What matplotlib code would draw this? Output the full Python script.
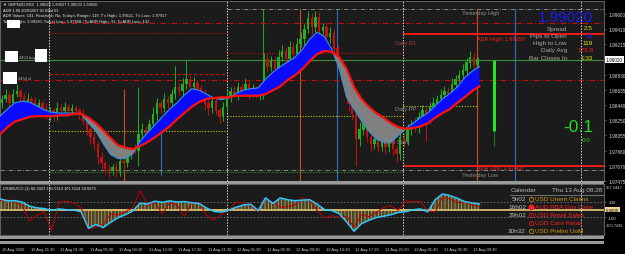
import numpy as np
import matplotlib.pyplot as plt
from matplotlib.patches import Rectangle

plt.rcParams['font.family'] = ['Liberation Sans', 'DejaVu Sans']
plt.rcParams['hatch.linewidth'] = 0.5

# --- data (GBPNZD M15, shown as 30 min bars) ---
first_open = 1.9847
closes = [1.9852, 1.9857, 1.9847, 1.9858, 1.9862, 1.9854, 1.9844, 1.9852, 1.9849, 1.9842,
          1.9847, 1.9840, 1.9832, 1.9837, 1.9829, 1.9840, 1.9837, 1.9842, 1.9836, 1.9840,
          1.9837, 1.9833, 1.9824, 1.9813, 1.9803, 1.9794, 1.9778, 1.9770, 1.9763, 1.9760,
          1.9765, 1.9760, 1.9773, 1.9770, 1.9782, 1.9788, 1.9786, 1.9807, 1.9813, 1.9803,
          1.9820, 1.9833, 1.9846, 1.9840, 1.9852, 1.9847, 1.9858, 1.9867, 1.9862, 1.9871,
          1.9877, 1.9867, 1.9872, 1.9865, 1.9858, 1.9846, 1.9840, 1.9849, 1.9837, 1.9829,
          1.9842, 1.9854, 1.9862, 1.9858, 1.9867, 1.9862, 1.9870, 1.9859, 1.9865, 1.9857,
          1.9862, 1.9903, 1.9893, 1.9900, 1.9890, 1.9905, 1.9913, 1.9903, 1.9918, 1.9909,
          1.9922, 1.9928, 1.9941, 1.9954, 1.9943, 1.9956, 1.9938, 1.9943, 1.9931, 1.9935,
          1.9916, 1.9900, 1.9884, 1.9865, 1.9846, 1.9833, 1.9801, 1.9813, 1.9824, 1.9803,
          1.9794, 1.9801, 1.9791, 1.9798, 1.9791, 1.9801, 1.9788, 1.9782, 1.9803, 1.9798,
          1.9813, 1.9820, 1.9816, 1.9829, 1.9837, 1.9827, 1.9842, 1.9846, 1.9852, 1.9857,
          1.9862, 1.9858, 1.9870, 1.9877, 1.9882, 1.9888, 1.9898, 1.9905, 1.9895, 1.9902]
# wick lengths in pips
wick_up = [5, 8, 4, 6, 9, 3, 5, 7, 4, 6, 5, 3, 7, 5, 4, 8, 5, 6, 4, 5,
           3, 4, 6, 5, 3, 5, 4, 6, 3, 5, 4, 7, 6, 4, 5, 3, 6, 60, 8, 5,
           6, 9, 7, 5, 8, 4, 6, 27, 5, 7, 25, 6, 8, 4, 5, 6, 4, 7, 5, 3,
           6, 8, 5, 7, 6, 4, 8, 5, 6, 4, 5, 7, 8, 6, 5, 9, 7, 5, 8, 6,
           7, 9, 6, 10, 7, 8, 6, 5, 7, 9, 6, 5, 4, 6, 5, 8, 6, 9, 5, 7,
           4, 6, 5, 7, 8, 5, 6, 4, 9, 6, 7, 5, 8, 6, 7, 5, 6, 8, 5, 7,
           6, 5, 8, 6, 7, 9, 6, 8, 5, 3]
wick_dn = [6, 4, 7, 5, 3, 8, 5, 4, 6, 5, 4, 6, 5, 8, 5, 4, 7, 5, 6, 4,
           5, 6, 4, 7, 8, 6, 9, 7, 6, 8, 5, 7, 6, 8, 5, 6, 4, 20, 7, 6,
           5, 4, 8, 6, 5, 7, 4, 6, 5, 8, 6, 5, 7, 4, 6, 8, 9, 6, 5, 8,
           5, 7, 6, 4, 8, 5, 6, 7, 5, 4, 6, 5, 7, 6, 4, 8, 5, 6, 7, 5,
           6, 4, 7, 5, 8, 6, 7, 5, 6, 8, 7, 9, 8, 6, 10, 8, 34, 9, 7, 6,
           8, 6, 7, 5, 9, 6, 7, 10, 8, 6, 5, 7, 6, 8, 5, 29, 6, 7, 5, 6,
           8, 5, 6, 7, 4, 6, 5, 7, 6, 4]

# hourly moving averages
fast_ma = [1.9830, 1.9839, 1.9847, 1.9849, 1.9848, 1.9843, 1.9838, 1.9835, 1.9834, 1.9834,
           1.9834, 1.9833, 1.9821, 1.9811, 1.9795, 1.9781, 1.9776, 1.9776, 1.9782, 1.9798,
           1.9809, 1.9819, 1.9829, 1.9839, 1.9847, 1.9857, 1.9865, 1.9863, 1.9858, 1.9853,
           1.9851, 1.9853, 1.9859, 1.9863, 1.9865, 1.9866, 1.9877, 1.9886, 1.9893, 1.9899,
           1.9905, 1.9915, 1.9928, 1.9937, 1.9931, 1.9915, 1.9890, 1.9854, 1.9839, 1.9824,
           1.9811, 1.9801, 1.9797, 1.9797, 1.9805, 1.9814, 1.9821, 1.9828, 1.9834, 1.9843,
           1.9852, 1.9859, 1.9867, 1.9879, 1.9887, 1.9893]
slow_ma = [1.9807, 1.9816, 1.9823, 1.9826, 1.9829, 1.9830, 1.9830, 1.9830, 1.9831, 1.9831,
           1.9833, 1.9833, 1.9828, 1.9821, 1.9812, 1.9802, 1.9793, 1.9790, 1.9788, 1.9792,
           1.9797, 1.9803, 1.9810, 1.9817, 1.9826, 1.9834, 1.9842, 1.9848, 1.9852, 1.9853,
           1.9854, 1.9854, 1.9856, 1.9856, 1.9856, 1.9856, 1.9858, 1.9863, 1.9868, 1.9876,
           1.9882, 1.9890, 1.9900, 1.9909, 1.9913, 1.9912, 1.9905, 1.9890, 1.9867, 1.9852,
           1.9842, 1.9834, 1.9828, 1.9821, 1.9816, 1.9814, 1.9815, 1.9817, 1.9821, 1.9828,
           1.9834, 1.9839, 1.9847, 1.9854, 1.9862, 1.9868]

# hourly CCI values (lower window)
cci_main = [140, 117, 117, 100, 45, 22, 12, -12, 7, -3,
            -8, -30, -250, -200, -240, -170, -110, -70, -20, 85,
            73, 110, 96, 115, 100, 105, 90, 80, 20, -25,
            -35, -10, 30, 60, 70, -16, 155, 80, 155, 130,
            117, 125, 130, 70, 0, -15, -55, -165, -290, -190,
            -145, -108, -90, -70, -40, -30, -3, 7, -30, 130,
            207, 185, 150, 105, 88, 73]
cci_signal = [117, 130, 100, 50, -150, -80, -30, -280, 96, 110,
              90, 20, -260, -230, -200, -60, -70, -30, 22, 250,
              51, 100, -60, 90, 60, -90, 96, 90, -82, -140,
              -70, -10, 96, 90, 50, -30, 150, 90, 30, 40,
              60, 160, 120, -10, -110, -85, -100, -90, -240, -70,
              -95, -40, 25, 51, -10, 117, 100, 110, -20, -30,
              162, 140, 90, 100, 60, 40]

last_price = 1.99020
yest_high = 1.99664
yest_low = 1.97615
adr_high = 1.99350
adr_low = 1.97668
r_levels = [1.99486, 1.99358, 1.99104]
s_levels = [1.98837, 1.98760, 1.97590]
pp_levels = [1.98111, 1.98302, 1.98429]
signal_bar = [1.99020, 1.98111, 1.97920]

price_ticks = [1.99600, 1.99410, 1.99215, 1.98830, 1.98635, 1.98440,
               1.98250, 1.98055, 1.97860, 1.97670, 1.97475]
date_labels = ["10 Aug 2020", "10 Aug 21:30", "11 Aug 01:30", "11 Aug 05:30", "11 Aug 09:30",
               "11 Aug 13:30", "11 Aug 17:30", "11 Aug 21:30", "12 Aug 01:30", "12 Aug 05:30",
               "12 Aug 09:30", "12 Aug 13:30", "12 Aug 17:30", "12 Aug 21:30", "13 Aug 01:30",
               "13 Aug 05:30", "13 Aug 09:30"]

info_labels = ["Spread", "Pips to Open", "High to Low", "Daily Avg", "Bar Closes In"]
info_values = ["2.5", "90", "119", "175.9", "1:33"]
info_colors = ["#e6e600", "#2020ff", "#e6e600", "#ff2020", "#e6e600"]

cal_times = ["5h02", "16h02", "29h02", "", "30h32"]
cal_events = ["USD Unem Claims", "AUD RBA Gov Lowe", "USD Retail Sales", "USD Core Retail", "USD Prelim UoM"]
cal_colors = ["#d09a10", "#ff2020", "#ff2020", "#ff2020", "#d09a10"]

# --- layout (pixel based, 625x255) ---
W, H = 625, 255
fig = plt.figure(figsize=(W / 100, H / 100), dpi=100, facecolor="black")


def box(x0, y0, x1, y1):
    return [x0 / W, 1 - y1 / H, (x1 - x0) / W, (y1 - y0) / H]


def y2p(y):
    return 1.99791 - y * 0.00012725


bg = "#1b1b1b"
ax = fig.add_axes(box(0, 2, 604, 182), facecolor=bg)
ind = fig.add_axes(box(0, 185, 604, 236), facecolor=bg)
xmax = 604 / 7.375
for a in (ax, ind):
    a.set_xlim(0, xmax)
    for sp in a.spines.values():
        sp.set_color("#707070")
        sp.set_linewidth(0.6)
ax.set_ylim(y2p(182), y2p(2))
ind.set_ylim(-340, 340)

# day separators
for h in (6.64, 30.78, 54.64, 78.78):
    for a in (ax, ind):
        a.axvline(h, color="#d8d8d8", lw=0.7, ls=(0, (1.5, 1.5)), zorder=1.6)

# session lines
ax.vlines([16.81], y2p(182), y2p(90), color="#c8501e", lw=0.8, zorder=1.5)
ax.vlines([40.68, 64.68], y2p(182), yest_high, color="#c8501e", lw=0.8, zorder=1.5)
ax.vlines([21.83], y2p(176), y2p(130), color="#2f6fc0", lw=0.8, zorder=1.5)
ax.vlines([45.69, 69.83], y2p(182), yest_high, color="#2f6fc0", lw=0.8, zorder=1.5)
ax.vlines([35.66], y2p(100), yest_high, color="#22a022", lw=0.8, zorder=1.5)

# levels
dashdot = (0, (5, 2, 1, 2))
dotted = (0, (1, 1.5))
dashed = (0, (3, 2))
lines = [
    (yest_high, 30.78, xmax, "#9a9a9a", dashdot, 0.6),
    (r_levels[0], 6.64, xmax, "#c41010", dashdot, 0.8),
    (r_levels[1], 6.64, 30.78, "#c41010", dotted, 0.8),
    (adr_high, 54.64, xmax, "#ff1a1a", "-", 1.3),
    (r_levels[2], 30.78, 54.64, "#c41010", dotted, 0.8),
    (s_levels[0], 6.64, 30.78, "#c41010", dashed, 0.8),
    (s_levels[1], 0, xmax, "#c41010", dashdot, 0.8),
    (pp_levels[0], 6.64, 30.78, "#c8c800", dotted, 0.8),
    (pp_levels[1], 30.78, 54.64, "#c8c800", dotted, 0.8),
    (pp_levels[2], 54.64, 64.7, "#c8c800", dotted, 0.8),
    (yest_low, 0, xmax, "#9a9a9a", dashdot, 0.6),
    (s_levels[2], 6.64, 54.64, "#20a020", dotted, 0.8),
    (adr_low, 54.64, xmax, "#ff1a1a", "-", 1.3),
]
for p, h0, h1, c, ls, lw in lines:
    ax.hlines(p, h0, h1, colors=c, linestyles=[ls], lw=lw, zorder=1.5)
ax.axhline(last_price, color="#3c8c3c", lw=0.8, zorder=1.5)

# candles
n = len(closes)
bar_h = 0.27 + 0.5 * np.arange(n)
c = np.array(closes)
opens = np.array([first_open] + closes[:-1])
highs = np.maximum(opens, c) + np.array(wick_up) * 0.0001
lows = np.minimum(opens, c) - np.array(wick_dn) * 0.0001
col = np.where(c >= opens, "#1fb01f", "#c41212")
ax.vlines(bar_h, lows, highs, colors=col, lw=0.7, zorder=3)
ax.bar(bar_h, np.abs(c - opens) + 0.00003, bottom=np.minimum(opens, c), width=0.32,
       color=col, lw=0, zorder=3)

# moving average ribbon
mh = np.arange(len(fast_ma))
f = np.array(fast_ma)
s = np.array(slow_ma)
ax.fill_between(mh, f, s, where=f >= s, interpolate=True, color="#0a0aff", lw=0, zorder=4)
ax.fill_between(mh, f, s, where=f < s, interpolate=True, color="#808080", lw=0, zorder=4)
ax.plot(mh, f, color="#3296dc", lw=0.8, zorder=5)
ax.plot(mh, s, color="#ff1010", lw=1.6, zorder=5)

# signal bar
ax.vlines(66.98, signal_bar[1], signal_bar[0], color="#22e622", lw=2.2, zorder=5)
ax.vlines(66.98, signal_bar[2], signal_bar[1], color="#1a7a1a", lw=0.8, zorder=5)

# level labels
lab = dict(fontsize=4.0, va="center", zorder=6)
ax.text(62.6, y2p(13.5), "Yesterday High", color="#8c8c8c", **lab)
ax.text(64.7, y2p(39.5), "ADR High: 1.99350", color="#ff2020", **lab)
ax.text(53.5, y2p(44), "Daily R1", color="#a04040", **lab)
ax.text(53.5, y2p(110), "Daily PP", color="#8c8c8c", **lab)
ax.text(52.0, y2p(143), "LDN Start", color="#8c8c8c", **lab)
ax.text(64.7, y2p(169), "ADR Low: 1.97668", color="#ff2020", **lab)
ax.text(62.6, y2p(175.5), "Yesterday Low", color="#8c8c8c", **lab)

# right price scale
ax.set_xticks([])
ax.yaxis.tick_right()
ax.set_yticks(price_ticks, [f"{p:.5f}" for p in price_ticks])
ax.tick_params(axis="y", colors="#707070", labelcolor="#d8d8d8", labelsize=3.4,
               length=1.5, width=0.5, pad=1.5)
ax.text(1.003, last_price, "1.99020", transform=ax.get_yaxis_transform(), fontsize=3.4,
        color="black", va="center", ha="left", clip_on=False,
        bbox=dict(facecolor="white", edgecolor="none", pad=0.6))

# lower window: CCI
ih = np.arange(len(cci_main))
cm = np.array(cci_main)
ind.fill_between(ih, 0, cm, facecolor="#4a4222", edgecolor="#c8b070", hatch="|||||", lw=0, zorder=2)
ind.axhline(100, color="#707070", lw=0.6, ls=(0, (2, 2)), zorder=2)
ind.axhline(-100, color="#707070", lw=0.6, ls=(0, (2, 2)), zorder=2)
ind.axhline(0, color="#e8c878", lw=1.2, zorder=3)
ind.plot(ih, cci_signal, color="#c00000", lw=0.7, zorder=4)
ind.plot(ih, cm, color="#30c8ff", lw=1.1, zorder=5)

ind.yaxis.tick_right()
ind.set_yticks([100, -100], ["100", "-100"])
ind.tick_params(axis="y", colors="#707070", labelcolor="#d8d8d8", labelsize=3.2,
                length=1.5, width=0.5, pad=1.5)
ind.text(1.003, 0, "0.0000", transform=ind.get_yaxis_transform(), fontsize=3.2, color="black",
         va="center", ha="left", clip_on=False,
         bbox=dict(facecolor="#f0d890", edgecolor="none", pad=0.6))
ind.text(1.003, 304, "357.2447", transform=ind.get_yaxis_transform(), fontsize=2.9,
         color="#d8d8d8", va="center", ha="left", clip_on=False)
ind.text(1.003, -202, "-300.7436", transform=ind.get_yaxis_transform(), fontsize=2.8,
         color="#d8d8d8", va="center", ha="left", clip_on=False)

label_h = [0.27] + [4.15 + 4 * k for k in range(len(date_labels) - 1)]
ind.set_xticks(label_h, date_labels)
ind.tick_params(axis="x", length=0, labelsize=2.9, labelcolor="#d0d0d0", pad=9)
for t in ind.get_xticklabels():
    t.set_ha("left")

# --- overlay in pixel coordinates for panels and texts ---
ov = fig.add_axes([0, 0, 1, 1])
ov.set_xlim(0, W)
ov.set_ylim(H, 0)
ov.axis("off")

ov.add_patch(Rectangle((0, 182), 604, 2.5, color="#9a9a9a", lw=0))
ov.add_patch(Rectangle((0, 237), 604, 2.5, color="#9a9a9a", lw=0))
ov.add_patch(Rectangle((0, 242), 604, 2.5, color="#9a9a9a", lw=0))

hdr = dict(fontsize=2.85, color="#e8e8e8", va="center", ha="left")
ov.text(3, 5, "\u25bc GBPNZD,M15  1.99020 1.99027 1.99003 1.99020", **hdr)
ov.text(3, 10.5, "ADR 1.00 20051007 01 Mod 01", **hdr)
ov.text(3, 16, "ADR Values: 141, Reached= No, Today's Range= 119, T's High= 1.99111, T's Low= 1.97917", **hdr)
ov.text(3, 21.5, "Target High= 1.99330, Target Low= 1.97698 / To ADR High= 31, To ADR Low= 132", **hdr)
ov.text(3, 189, "DSSBUCCI (1) 66.3923 101.5114 101.5114 20.6675", **hdr)

for x0, y0, x1, y1 in [(7, 21, 20, 29), (5, 52, 18, 63), (35, 50, 47, 63), (3, 73, 17, 85)]:
    ov.add_patch(Rectangle((x0, y0), x1 - x0, y1 - y0, color="white", lw=0))
ov.text(19, 58, "4454 buy", fontsize=2.9, color="#b0b0b0", va="center")
ov.text(18, 79.5, "4454 sl", fontsize=2.9, color="#b0b0b0", va="center")

# info panel
ov.text(593, 17.5, "1.99020", fontsize=11, color="#1a1aff", ha="right", va="center")
for i, (l, v, vc) in enumerate(zip(info_labels, info_values, info_colors)):
    y = 29 + 7.3 * i
    ov.text(567, y, l, fontsize=4.6, color="#a8a8a8", ha="right", va="center")
    ov.text(593, y, v, fontsize=4.6, color=vc, ha="right", va="center")
ov.text(593, 127.5, "-0.1", fontsize=12.5, color="#22dd22", ha="right", va="center")
ov.text(590, 140.5, "0.0", fontsize=4.5, color="#22cc22", ha="right", va="center")

# calendar
ov.text(511, 191, "Calendar", fontsize=4.6, color="#b8b8b8", va="center")
ov.text(602, 191, "Thu 13 Aug 08:28", fontsize=4.6, color="#b8b8b8", va="center", ha="right")
ov.plot([510, 604], [195.5, 195.5], color="#808080", lw=0.6)
for i, (t, e, ec) in enumerate(zip(cal_times, cal_events, cal_colors)):
    y = 199.5 + 8.05 * i
    ov.text(526, y, t, fontsize=4.6, color="#c0c0c0", va="center", ha="right")
    if i == 1:
        ov.plot(531, y, marker="o", ms=3.2, mfc="#ff2020", mec="#ff2020")
    else:
        ov.plot(531, y, marker="o", ms=3.2, mfc="none", mec=ec, mew=0.5)
        ov.text(531, y, "!", fontsize=2.6, color=ec, va="center", ha="center")
    ov.text(535, y, e, fontsize=4.6, color=ec, va="center")

fig.savefig("out.png", dpi=100, facecolor=fig.get_facecolor())
